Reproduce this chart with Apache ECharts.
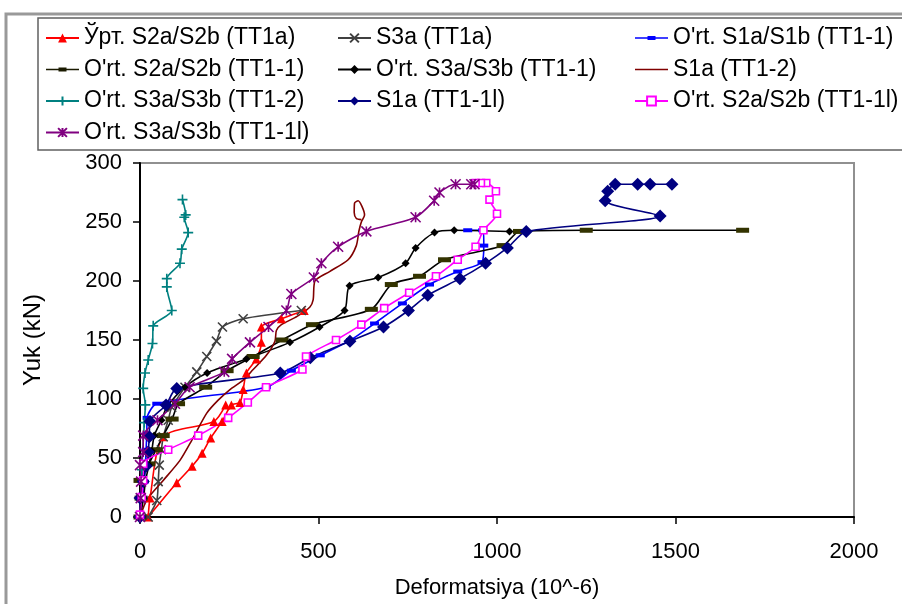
<!DOCTYPE html>
<html>
<head>
<meta charset="utf-8">
<script src="https://cdn.jsdelivr.net/npm/echarts@6/dist/echarts.min.js"></script>
<style>
  html, body { margin: 0; padding: 0; background: #fff; }
  #chart { width: 902px; height: 604px; }
</style>
</head>
<body>
<div id="chart"></div>
<script>
// Load–strain curves: [deformation (10^-6), load (kN)]
const urtS2aS2b_TT1a = [[240,95],[207,81],[65,68],[28,16],[23,0],[103,29],[146,43],[174,54],[198,67],[230,81],[256,95],[280,97],[289,108],[298,122],[326,134],[340,148],[340,161],[396,168],[460,175]];
const s3a_TT1a = [[23,0],[47,14],[51,30],[54,44],[60,57],[65,68],[79,82],[89,93],[126,110],[159,123],[187,136],[214,149],[231,161],[289,168],[452,175]];
const ortS1aS1b_TT11 = [[0,0],[8,16],[12,30],[15,44],[17,57],[19,70],[20,84],[47,96],[354,110],[424,124],[505,137],[590,150],[657,164],[735,181],[811,197],[890,208],[958,216],[963,230],[960,243],[918,243]];
const ortS2aS2b_TT11 = [[0,0],[3,16],[0,31],[25,45],[45,57],[65,69],[90,83],[108,96],[184,110],[244,124],[317,136],[398,150],[483,163],[648,176],[704,197],[783,204],[853,218],[1017,230],[1063,242],[1250,243],[1688,243]];
const ortS3aS3b_TT11 = [[0,0],[10,16],[15,30],[25,44],[33,56],[40,69],[60,82],[75,93],[126,110],[188,122],[298,134],[420,148],[503,161],[573,175],[587,196],[667,203],[744,215],[772,228],[825,241],[880,243],[1035,242]];
const s1a_TT12 = [[0,0],[20,15],[65,31],[112,48],[145,65],[187,88],[219,99],[252,108],[289,116],[317,125],[354,137],[378,149],[382,158],[396,163],[440,170],[476,178],[485,184],[490,200],[531,208],[583,218],[606,230],[613,242],[620,250],[629,256],[622,263],[611,268],[601,266],[600,258],[606,253],[620,252]];
const ortS3aS3b_TT12 = [[0,0],[5,40],[12,80],[15,95],[9,109],[14,122],[23,133],[35,147],[37,162],[89,175],[75,195],[75,202],[112,215],[117,227],[135,241],[124,254],[128,256],[119,269]];
const s1a_TT11l = [[0,0],[0,16],[9,30],[17,43],[23,55],[26,68],[28,81],[73,95],[103,109],[393,122],[477,135],[588,149],[682,161],[752,175],[806,188],[896,202],[968,215],[1029,228],[1082,242],[1457,255],[1303,268],[1310,276],[1331,282],[1394,282],[1429,282],[1490,282]];
const ortS2aS2b_TT11l = [[0,2],[5,17],[9,31],[9,45],[79,57],[163,69],[247,84],[302,97],[353,110],[455,125],[465,136],[549,150],[620,163],[684,177],[754,190],[829,204],[890,218],[940,229],[962,243],[1000,257],[979,269],[997,276],[970,283],[955,283],[940,283]];
const ortS3aS3b_TT11l = [[0,0],[2,16],[3,30],[0,44],[9,55],[9,69],[49,82],[98,96],[139,110],[236,123],[258,134],[308,148],[360,161],[410,175],[424,189],[487,203],[508,215],[555,229],[634,242],[772,254],[824,268],[839,275],[884,282],[928,282],[937,282]];

const seriesNames = [
  "Ўрт. S2a/S2b (TT1a)", "S3a (TT1a)", "O'rt. S1a/S1b (TT1-1)",
  "O'rt. S2a/S2b (TT1-1)", "O'rt. S3a/S3b (TT1-1)", "S1a (TT1-2)",
  "O'rt. S3a/S3b (TT1-2)", "S1a (TT1-1l)", "O'rt. S2a/S2b (TT1-1l)",
  "O'rt. S3a/S3b (TT1-1l)"
];
const xTicks = [0, 500, 1000, 1500, 2000];
const yTicks = [0, 50, 100, 150, 200, 250, 300];

const FONT = "'Liberation Sans', Arial, sans-serif";
const CROSS = 'path://M0,0L10,10M10,0L0,10';
const PLUS = 'path://M5,0L5,10M0,5L10,5';
const STAR = 'path://M0,0L10,10M10,0L0,10M5,0L5,10';
// legend glyphs drawn as filled shapes inside a 33x11 box
const DASH_ICON = 'path://M0,0L0,0M33,11L33,11M0,4.7L33,4.7L33,6.3L0,6.3ZM12.5,3.5L20.5,3.5L20.5,7.5L12.5,7.5Z';
const LINE_ICON = 'path://M0,0L0,0M33,11L33,11M0,4.7L33,4.7L33,6.3L0,6.3Z';

const LEG_W = 33, LEG_H = 11;

function curve(name, data, lineColor, symbol, size, item) {
  return {
    type: 'line', name: name, data: data,
    smooth: 0.25, smoothMonotone: null,
    symbol: symbol, symbolSize: size, showSymbol: symbol !== 'none',
    lineStyle: { color: lineColor, width: 1.6 },
    itemStyle: item, color: lineColor,
    animation: false, clip: false,
    emphasis: { disabled: true }
  };
}

const series = [
  curve(seriesNames[0], urtS2aS2b_TT1a, '#FF0000', 'triangle', 9, { color: '#FF0000' }),
  curve(seriesNames[1], s3a_TT1a, '#404040', CROSS, 9, { color: 'none', borderColor: '#404040', borderWidth: 1.6 }),
  curve(seriesNames[2], ortS1aS1b_TT11, '#0000FF', 'rect', [9, 4], { color: '#0000FF' }),
  curve(seriesNames[3], ortS2aS2b_TT11, '#000000', 'rect', [13, 5], { color: '#333300' }),
  curve(seriesNames[4], ortS3aS3b_TT11, '#000000', 'diamond', 8, { color: '#000000' }),
  curve(seriesNames[5], s1a_TT12, '#800000', 'none', 1, { color: '#800000' }),
  curve(seriesNames[6], ortS3aS3b_TT12, '#008080', PLUS, 10, { color: 'none', borderColor: '#008080', borderWidth: 1.6 }),
  curve(seriesNames[7], s1a_TT11l, '#000080', 'diamond', 13, { color: '#000080' }),
  curve(seriesNames[8], ortS2aS2b_TT11l, '#FF00FF', 'rect', 7, { color: '#FFFFFF', borderColor: '#FF00FF', borderWidth: 1.6 }),
  curve(seriesNames[9], ortS3aS3b_TT11l, '#800080', STAR, 10, { color: 'none', borderColor: '#800080', borderWidth: 1.6 })
];

function legendEntry(name) {
  if (name === seriesNames[2]) {
    return { name: name, icon: DASH_ICON, itemStyle: { color: '#0000FF', borderWidth: 0 } };
  }
  if (name === seriesNames[3]) {
    return { name: name, icon: DASH_ICON, itemStyle: { color: '#1a1a00', borderWidth: 0 } };
  }
  if (name === seriesNames[5]) {
    return { name: name, icon: LINE_ICON, itemStyle: { color: '#800000', borderWidth: 0 } };
  }
  return { name: name };
}

function legendColumn(left, names) {
  return {
    orient: 'vertical', left: left, top: 25, padding: 0,
    itemWidth: LEG_W, itemHeight: LEG_H, itemGap: 5.5,
    textStyle: { fontFamily: FONT, fontSize: 23, color: '#000', lineHeight: 26 },
    data: names.map(legendEntry), selectedMode: false
  };
}

const chart = echarts.init(document.getElementById('chart'), null, { renderer: 'canvas' });
chart.setOption({
  backgroundColor: '#FFFFFF',
  animation: false,
  graphic: [
    { type: 'rect', shape: { x: 6, y: 14, width: 910, height: 600 }, style: { fill: 'none', stroke: '#999999', lineWidth: 3 }, z: -1 },
    { type: 'rect', shape: { x: 38, y: 18, width: 880, height: 132 }, style: { fill: '#FFFFFF', stroke: '#606060', lineWidth: 1.5 }, z: -1 }
  ],
  legend: [
    legendColumn(45, [seriesNames[0], seriesNames[3], seriesNames[6], seriesNames[9]]),
    legendColumn(337, [seriesNames[1], seriesNames[4], seriesNames[7]]),
    legendColumn(634, [seriesNames[2], seriesNames[5], seriesNames[8]])
  ],
  grid: {
    left: 140, right: 48, top: 163, bottom: 87,
    show: true, borderColor: '#909090', borderWidth: 2, backgroundColor: '#FFFFFF'
  },
  xAxis: {
    type: 'value', min: xTicks[0], max: xTicks[xTicks.length - 1], interval: 500,
    name: 'Deformatsiya (10^-6)', nameLocation: 'middle', nameGap: 60,
    nameTextStyle: { fontFamily: FONT, fontSize: 22, color: '#000' },
    axisLine: { onZero: false, lineStyle: { color: '#000', width: 2 } },
    axisTick: { inside: false, length: 7, lineStyle: { color: '#000', width: 1.5 } },
    axisLabel: { fontFamily: FONT, fontSize: 22, color: '#000', margin: 24, formatter: v => String(v) },
    splitLine: { show: false }
  },
  yAxis: {
    type: 'value', min: yTicks[0], max: yTicks[yTicks.length - 1], interval: 50,
    name: 'Yuk (kN)', nameLocation: 'middle', nameGap: 95,
    nameTextStyle: { fontFamily: FONT, fontSize: 24, color: '#000' },
    axisLine: { onZero: false, lineStyle: { color: '#000', width: 2 } },
    axisTick: { inside: false, length: 7, lineStyle: { color: '#000', width: 1.5 } },
    axisLabel: { fontFamily: FONT, fontSize: 22, color: '#000', margin: 18, formatter: v => String(v) },
    splitLine: { show: false }
  },
  series: series
});
</script>
</body>
</html>
